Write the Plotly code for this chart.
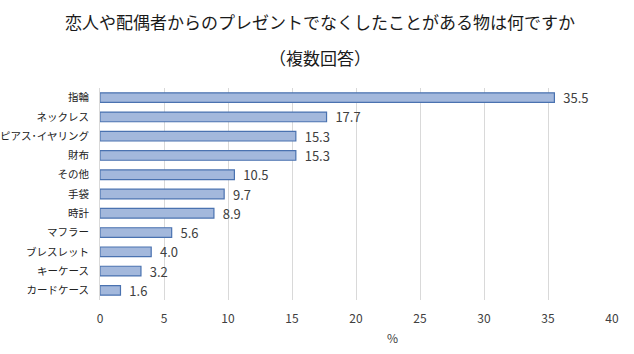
import plotly.graph_objects as go

categories = ["指輪", "ネックレス", "ピアス･イヤリング", "財布", "その他", "手袋", "時計", "マフラー", "ブレスレット", "キーケース", "カードケース"]
values = [35.5, 17.7, 15.3, 15.3, 10.5, 9.7, 8.9, 5.6, 4.0, 3.2, 1.6]
labels = [f"{v:.1f}" for v in values]
title_lines = ["恋人や配偶者からのプレゼントでなくしたことがある物は何ですか", "（複数回答）"]

font = "Noto Sans CJK JP"

fig = go.Figure(go.Bar(
    x=values, y=categories, orientation="h",
    text=labels, texttemplate="  %{text}", textposition="outside", cliponaxis=False,
    constraintext="none",
    textfont=dict(size=13, color="#404040", family=font),
    marker=dict(color="#a3b8dc", line=dict(color="#4a72b0", width=1.2)),
    width=0.5,
))

W, H = 634, 354
ml, mr, mt, mb = 100, 22, 88, 54
ph = H - mt - mb
pw = W - ml - mr
def ypaper(px):
    return (H - mb - px) / ph
def xpaper(px):
    return (px - ml) / pw

fig.update_layout(
    width=W, height=H,
    margin=dict(l=ml, r=mr, t=mt, b=mb),
    paper_bgcolor="white", plot_bgcolor="white",
    font=dict(family=font, color="#404040", size=12),
    showlegend=False,
    annotations=[
        dict(text=title_lines[0], x=xpaper(320), xref="paper", xanchor="center",
             y=ypaper(22), yref="paper", yanchor="middle", showarrow=False,
             font=dict(size=17, color="#1a1a1a", family=font)),
        dict(text=title_lines[1], x=xpaper(320), xref="paper", xanchor="center",
             y=ypaper(57), yref="paper", yanchor="middle", showarrow=False,
             font=dict(size=17, color="#1a1a1a", family=font)),
        dict(text="%", x=xpaper(392), xref="paper", xanchor="center",
             y=ypaper(337), yref="paper", yanchor="middle", showarrow=False,
             font=dict(size=12, color="#404040", family=font)),
    ],
)
fig.update_xaxes(
    range=[0, 40], dtick=5, showgrid=True, gridcolor="#d9d9d9", gridwidth=1,
    zeroline=False, showline=False, ticks="",
    tickfont=dict(size=12, color="#404040"),
    ticklabelstandoff=10,
    automargin=False,
)
fig.update_yaxes(
    autorange="reversed", showgrid=False, zeroline=False,
    showline=True, linecolor="#d9d9d9", ticks="",
    tickfont=dict(size=10.5, color="#222222"),
    ticklabelstandoff=8,
    automargin=False,
)

fig.write_html("out.html")
